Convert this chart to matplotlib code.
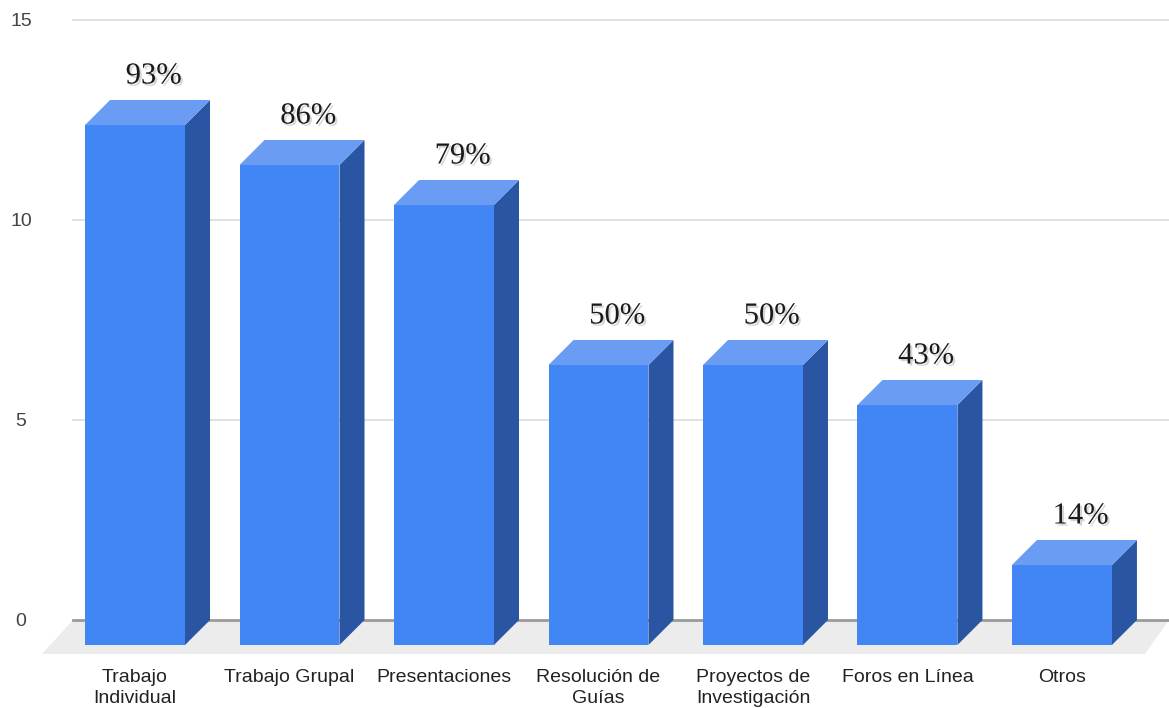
import matplotlib.pyplot as plt
import matplotlib.patheffects as pe
from matplotlib.patches import Polygon

categories = ["Trabajo\nIndividual", "Trabajo Grupal", "Presentaciones",
              "Resolución de\nGuías", "Proyectos de\nInvestigación",
              "Foros en Línea", "Otros"]
counts = [13, 12, 11, 7, 7, 6, 2]
percent_labels = ["93%", "86%", "79%", "50%", "50%", "43%", "14%"]
y_ticks = [0, 5, 10, 15]

front_color = "#4285f4"
top_color = "#6a9cf3"
side_color = "#2a55a3"

width = 0.647     # front face width
dx, dy = 0.162, 0.625   # depth offset of the back face

fig = plt.figure(figsize=(11.69, 7.08), dpi=100)
ax = fig.add_axes([0, 0, 1, 1])
ax.set_xlim(-0.874, 6.693)
ax.set_ylim(-2.2, 15.5)
ax.axis("off")

# floor
floor = Polygon([(-0.401, 0), (6.693, 0), (6.537, -0.85), (-0.602, -0.85)],
                closed=True, facecolor="#ececec", edgecolor="none", zorder=1)
ax.add_patch(floor)

# gridlines and y tick labels
for t in y_ticks:
    ax.plot([-0.401, 6.693], [t, t], color="#9a9a9a" if t == 0 else "#dcdcdc",
            lw=2 if t == 0 else 1.2, zorder=2)
    ax.text(-0.738, t - 0.05, str(t), ha="center", va="center", fontsize=14,
            color="#444444", family="Liberation Sans")

for i, (v, cat, lab) in enumerate(zip(counts, categories, percent_labels)):
    x0 = i - width / 2
    x1 = i + width / 2
    y0 = -dy
    y1 = v - dy
    side = Polygon([(x1, y0), (x1 + dx, 0), (x1 + dx, v), (x1, y1)],
                   facecolor=side_color, edgecolor="none", zorder=3)
    top = Polygon([(x0, y1), (x0 + dx, v), (x1 + dx, v), (x1, y1)],
                  facecolor=top_color, edgecolor="none", zorder=3)
    front = Polygon([(x0, y0), (x1, y0), (x1, y1), (x0, y1)],
                    facecolor=front_color, edgecolor="none", zorder=4)
    for p in (side, top, front):
        ax.add_patch(p)

    ax.text(i + 0.12, v + 0.6, lab, ha="center", va="center", fontsize=22,
            family="Liberation Serif", color="#1a1a1a", zorder=5,
            path_effects=[pe.SimplePatchShadow(offset=(1.5, -1.5),
                                               shadow_rgbFace="#888888",
                                               alpha=0.35),
                          pe.Normal()])

    ax.text(i, -1.22, cat, ha="center", va="top", fontsize=14,
            family="Liberation Sans", color="#222222", linespacing=1.3)

fig.savefig("out.png", dpi=100)
